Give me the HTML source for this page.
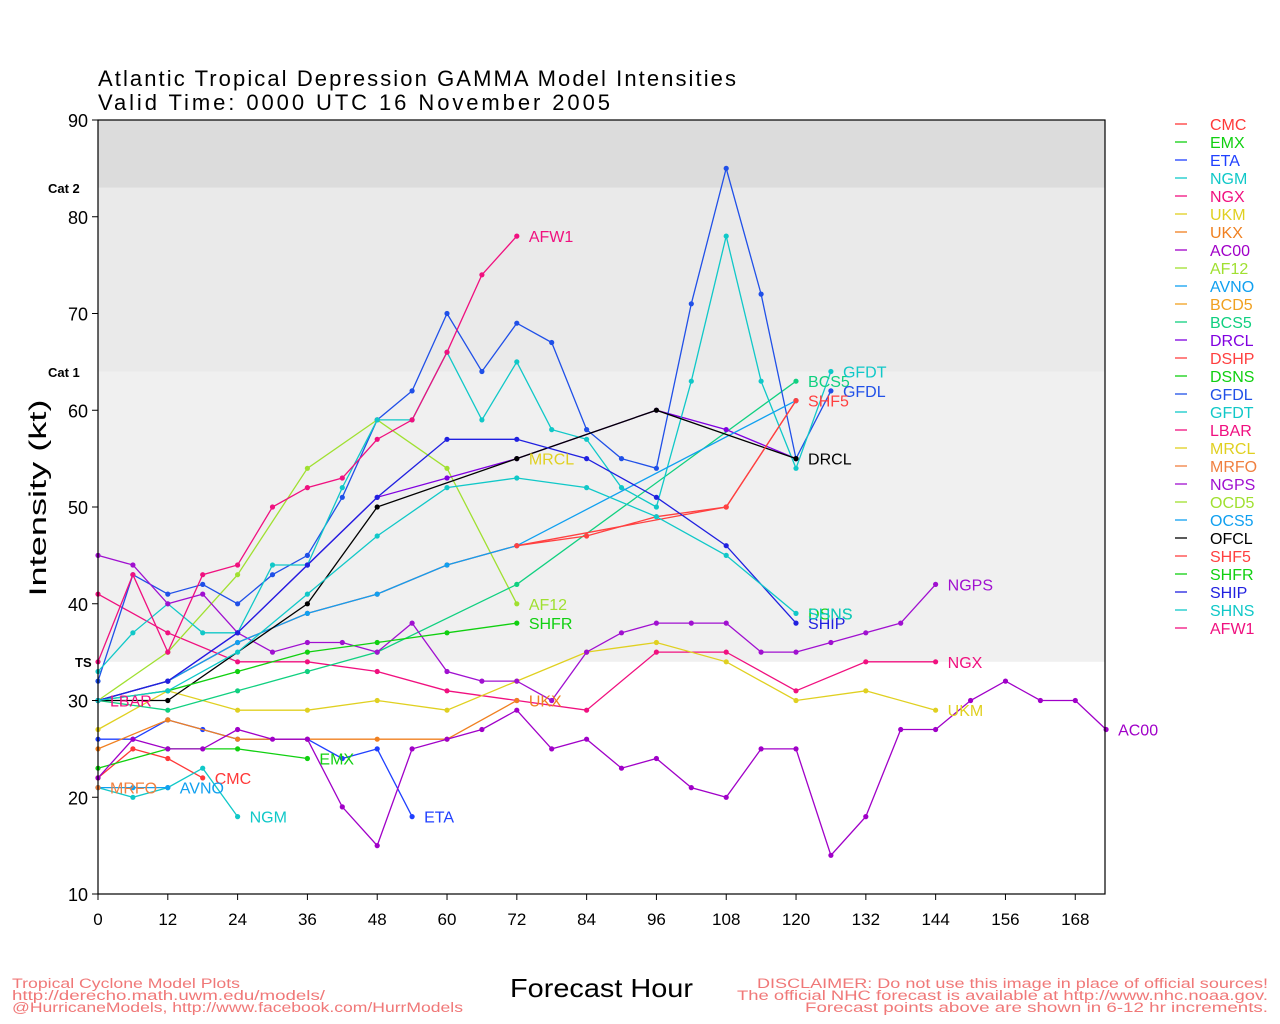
<!DOCTYPE html>
<html><head><meta charset="utf-8"><style>
body{margin:0;background:#fff;width:1280px;height:1024px;overflow:hidden}
svg{display:block}
text{font-family:"Liberation Sans",sans-serif}
</style></head><body>
<svg id="s" width="1280" height="1024" xmlns="http://www.w3.org/2000/svg"></svg>
<script>
var X=function(h){return 98+h*5.817},Y=function(v){return 894-(v-10)*9.675};
var o='';
o+='<rect x="98" y="'+Y(64)+'" width="1007" height="'+(Y(34)-Y(64))+'" fill="#f0f0f0"/>';
o+='<rect x="98" y="'+Y(83)+'" width="1007" height="'+(Y(64)-Y(83))+'" fill="#eaeaea"/>';
o+='<rect x="98" y="120" width="1007" height="'+(Y(83)-120)+'" fill="#dcdcdc"/>';
var S=[
['CMC','#ff3838',[[0,22],[6,25],[12,24],[18,22]],[18,22]],
['EMX','#10d010',[[0,23],[12,25],[24,25],[36,24]],[36,24]],
['ETA','#2040ff',[[0,26],[6,26],[12,28],[18,27],[24,26],[36,26],[42,24],[48,25],[54,18]],[54,18]],
['NGM','#10c8c8',[[0,21],[6,20],[12,21],[18,23],[24,18]],[24,18]],
['NGX','#f0107f',[[0,41],[12,37],[24,34],[36,34],[48,33],[60,31],[72,30],[84,29],[96,35],[108,35],[120,31],[132,34],[144,34]],[144,34]],
['UKM','#e0d020',[[0,27],[12,31],[24,29],[36,29],[48,30],[60,29],[72,32],[84,35],[96,36],[108,34],[120,30],[132,31],[144,29]],[144,29]],
['UKX','#f08020',[[0,25],[12,28],[24,26],[36,26],[48,26],[60,26],[72,30]],[72,30]],
['AC00','#a000c8',[[0,22],[6,26],[12,25],[18,25],[24,27],[30,26],[36,26],[42,19],[48,15],[54,25],[60,26],[66,27],[72,29],[78,25],[84,26],[90,23],[96,24],[102,21],[108,20],[114,25],[120,25],[126,14],[132,18],[138,27],[144,27],[150,30],[156,32],[162,30],[168,30],[173.3,27]],[173.3,27]],
['AF12','#a0e030',[[0,30],[12,35],[24,43],[36,54],[48,59],[60,54],[72,40]],[72,40]],
['AVNO','#10a0f0',[[0,21],[6,21],[12,21]],[12,21]],
['BCD5','#f0a020',[],null],
['BCS5','#10d080',[[0,30],[12,29],[24,31],[36,33],[48,35],[72,42],[120,63]],[120,63]],
['DRCL','#8000e0',[[0,30],[12,32],[24,37],[36,44],[48,51],[60,53],[72,55],[96,60],[108,58],[120,55]],null],
['DSHP','#ff4040',[[0,30],[12,32],[24,36],[36,39],[48,41],[60,44],[72,46],[84,47],[96,49],[108,50],[120,61]],null],
['DSNS','#10d010',[],[120,39]],
['GFDL','#2050e8',[[0,32],[6,43],[12,41],[18,42],[24,40],[30,43],[36,45],[42,51],[48,59],[54,62],[60,70],[66,64],[72,69],[78,67],[84,58],[90,55],[96,54],[102,71],[108,85],[114,72],[120,55],[126,62]],[126,62]],
['GFDT','#10c8c8',[[0,33],[6,37],[12,40],[18,37],[24,37],[30,44],[36,44],[42,52],[48,59],[54,59],[60,66],[66,59],[72,65],[78,58],[84,57],[90,52],[96,50],[102,63],[108,78],[114,63],[120,54],[126,64]],[126,64]],
['LBAR','#f01080',[[0,30]],[0,30]],
['MRCL','#e0d020',[],[72,55]],
['MRFO','#f08040',[[0,21]],[0,21]],
['NGPS','#a010d0',[[0,45],[6,44],[12,40],[18,41],[24,37],[30,35],[36,36],[42,36],[48,35],[54,38],[60,33],[66,32],[72,32],[78,30],[84,35],[90,37],[96,38],[102,38],[108,38],[114,35],[120,35],[126,36],[132,37],[138,38],[144,42]],[144,42]],
['OCD5','#a0e030',[],null],
['OCS5','#10a0f0',[[0,30],[12,32],[24,36],[36,39],[48,41],[60,44],[72,46],[120,61]],null],
['OFCL','#000000',[[0,30],[12,30],[36,40],[48,50],[72,55],[96,60],[120,55]],[120,55]],
['SHF5','#ff4040',[[72,46],[108,50],[120,61]],[120,61]],
['SHFR','#10d010',[[0,30],[12,31],[24,33],[36,35],[48,36],[60,37],[72,38]],[72,38]],
['SHIP','#2020e0',[[0,30],[12,32],[24,37],[36,44],[48,51],[60,57],[72,57],[84,55],[96,51],[108,46],[120,38]],[120,38]],
['SHNS','#10c8c8',[[0,30],[12,31],[24,35],[36,41],[48,47],[60,52],[72,53],[84,52],[96,49],[108,45],[120,39]],[120,39]],
['AFW1','#f0107f',[[0,34],[6,43],[12,35],[18,43],[24,44],[30,50],[36,52],[42,53],[48,57],[54,59],[60,66],[66,74],[72,78]],[72,78]]
];
S.forEach(function(s){var p=s[2];if(p.length>1){o+='<polyline fill="none" stroke="'+s[1]+'" stroke-width="1.3" points="'+p.map(function(q){return X(q[0]).toFixed(1)+','+Y(q[1]).toFixed(1)}).join(' ')+'"/>';}
p.forEach(function(q){o+='<circle cx="'+X(q[0]).toFixed(1)+'" cy="'+Y(q[1]).toFixed(1)+'" r="2.6" fill="'+s[1]+'"/>'});});
S.forEach(function(s){if(s[3]){var n=s[0];if(n=='OFCL')n='DRCL';o+='<text x="'+(X(s[3][0])+12)+'" y="'+(Y(s[3][1])+6)+'" font-size="16" fill="'+s[1]+'">'+n+'</text>';}});
o+='<rect x="98" y="120" width="1007" height="774" fill="none" stroke="#000" stroke-width="1.2"/>';
for(var v=10;v<=90;v+=10){o+='<line x1="92" x2="98" y1="'+Y(v)+'" y2="'+Y(v)+'" stroke="#000"/><text x="88" y="'+(Y(v)+7)+'" font-size="18" text-anchor="end">'+v+'</text>';}
for(var h=0;h<=168;h+=12){o+='<line x1="'+X(h)+'" x2="'+X(h)+'" y1="894" y2="900" stroke="#000"/><text x="'+X(h)+'" y="925" font-size="17" text-anchor="middle">'+h+'</text>';}
o+='<text x="48" y="193" font-size="13" font-weight="bold">Cat 2</text><text x="48" y="377" font-size="13" font-weight="bold">Cat 1</text><text x="75" y="667" font-size="13" font-weight="bold">TS</text>';
o+='<text transform="translate(46,498) rotate(-90)" font-size="24" text-anchor="middle" textLength="197" lengthAdjust="spacingAndGlyphs">Intensity (kt)</text>';
o+='<text x="98" y="86" font-size="22" textLength="638" lengthAdjust="spacing">Atlantic Tropical Depression GAMMA Model Intensities</text><text x="98" y="110" font-size="22" textLength="512" lengthAdjust="spacing">Valid Time: 0000 UTC 16 November 2005</text>';
o+='<text x="510" y="997" font-size="26" textLength="183" lengthAdjust="spacingAndGlyphs">Forecast Hour</text>';
var f='#f07878';
function t(x,y,w,s){return '<text x="'+x+'" y="'+y+'" textLength="'+w+'" lengthAdjust="spacingAndGlyphs">'+s+'</text>';}
o+='<g font-size="13.5" fill="'+f+'">'+t(12,988,228,'Tropical Cyclone Model Plots')+t(12,1000,313,'http://derecho.math.uwm.edu/models/')+t(12,1012,451,'@HurricaneModels, http://www.facebook.com/HurrModels');
o+=t(757,988,511,'DISCLAIMER: Do not use this image in place of official sources!')+t(737,1000,531,'The official NHC forecast is available at http://www.nhc.noaa.gov.')+t(805,1012,463,'Forecast points above are shown in 6-12 hr increments.')+'</g>';
S.forEach(function(s,i){var y=124+i*18;o+='<line x1="1175" x2="1187" y1="'+y+'" y2="'+y+'" stroke="'+s[1]+'" stroke-width="1.3"/><text x="1210" y="'+(y+6)+'" font-size="16" fill="'+s[1]+'">'+s[0]+'</text>';});
document.getElementById('s').innerHTML=o;
</script>
</body></html>
